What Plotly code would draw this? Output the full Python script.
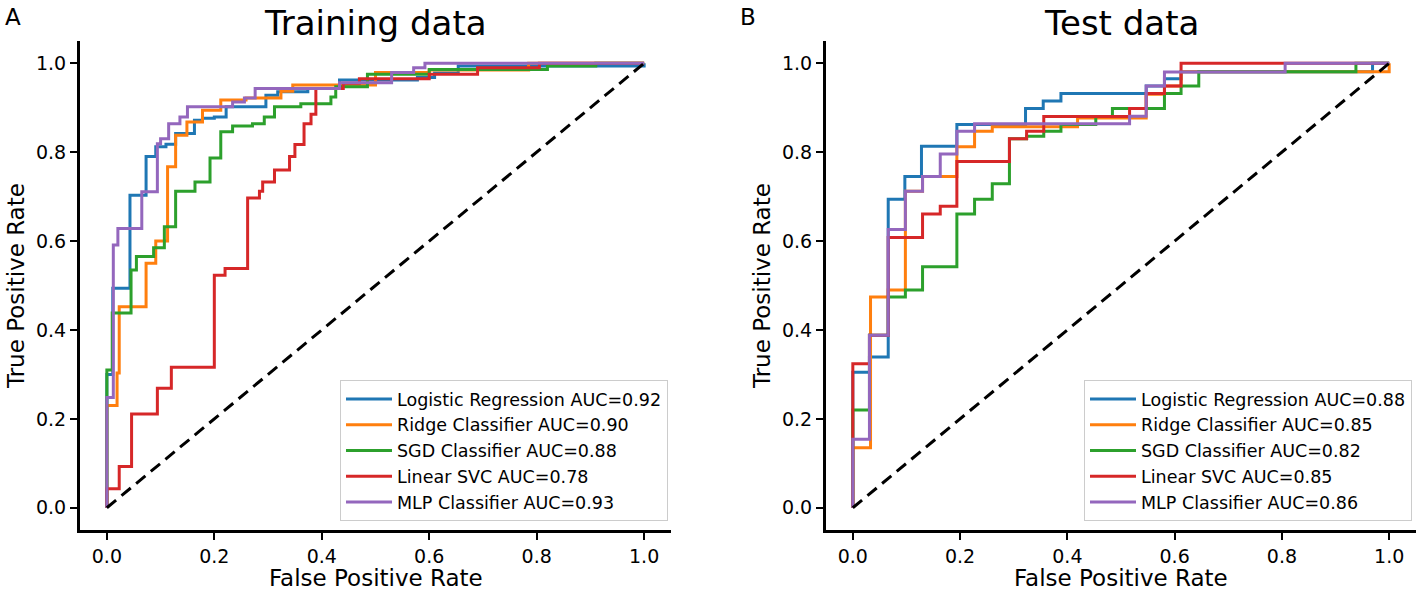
import plotly.graph_objects as go

# ROC curves (corner points of the step curves)
models = ["Logistic Regression", "Ridge Classifier", "SGD Classifier", "Linear SVC", "MLP Classifier"]
train_auc = [0.92, 0.90, 0.88, 0.78, 0.93]
test_auc = [0.88, 0.85, 0.82, 0.85, 0.86]
colors = ["#1f77b4", "#ff7f0e", "#2ca02c", "#d62728", "#9467bd"]

# --- training data ---
train_lr_fpr = [0, 0, 0.011, 0.043, 0.073, 0.091, 0.11, 0.128, 0.163, 0.178, 0.2, 0.222, 0.296, 0.318, 0.374, 0.433, 0.578, 0.61, 0.654, 1.0]
train_lr_tpr = [0, 0.30, 0.494, 0.703, 0.79, 0.812, 0.818, 0.842, 0.872, 0.876, 0.879, 0.902, 0.928, 0.936, 0.943, 0.962, 0.968, 0.978, 0.994, 1.0]

train_ridge_fpr = [0, 0, 0.019, 0.023, 0.073, 0.091, 0.113, 0.128, 0.149, 0.178, 0.212, 0.259, 0.324, 0.346, 0.5, 0.6, 0.785, 1.0]
train_ridge_tpr = [0, 0.23, 0.303, 0.452, 0.55, 0.6, 0.767, 0.838, 0.868, 0.894, 0.917, 0.922, 0.937, 0.951, 0.979, 0.985, 1.0, 1.0]

train_sgd_fpr = [0, 0, 0.01, 0.045, 0.055, 0.087, 0.107, 0.128, 0.164, 0.192, 0.212, 0.234, 0.271, 0.293, 0.312, 0.361, 0.417, 0.426, 0.485, 0.6, 0.82, 0.91, 1.0]
train_sgd_tpr = [0, 0.31, 0.438, 0.535, 0.565, 0.585, 0.632, 0.712, 0.733, 0.787, 0.846, 0.859, 0.864, 0.879, 0.902, 0.909, 0.924, 0.947, 0.975, 0.986, 0.994, 1.0, 1.0]

train_svc_fpr = [0, 0, 0.023, 0.046, 0.094, 0.12, 0.2, 0.22, 0.262, 0.284, 0.29, 0.312, 0.34, 0.35, 0.367, 0.38, 0.389, 0.44, 0.47, 0.6, 0.69, 0.805, 1.0]
train_svc_tpr = [0, 0.043, 0.093, 0.211, 0.269, 0.316, 0.523, 0.538, 0.697, 0.712, 0.733, 0.76, 0.79, 0.817, 0.864, 0.885, 0.943, 0.955, 0.965, 0.975, 0.99, 1.0, 1.0]

train_mlp_fpr = [0, 0, 0.012, 0.0205, 0.065, 0.094, 0.1, 0.115, 0.136, 0.15, 0.234, 0.256, 0.276, 0.433, 0.53, 0.571, 0.592, 1.0]
train_mlp_tpr = [0, 0.248, 0.591, 0.628, 0.711, 0.819, 0.83, 0.864, 0.879, 0.902, 0.913, 0.922, 0.943, 0.956, 0.979, 0.99, 1.0, 1.0]

# --- test data ---
test_lr_fpr = [0, 0, 0.031, 0.066, 0.097, 0.128, 0.194, 0.322, 0.355, 0.388, 0.547, 0.581, 0.612, 0.969, 1.0]
test_lr_tpr = [0, 0.305, 0.339, 0.694, 0.745, 0.813, 0.862, 0.898, 0.915, 0.932, 0.949, 0.965, 0.981, 1.0, 1.0]

test_ridge_fpr = [0, 0, 0.033, 0.066, 0.098, 0.13, 0.194, 0.227, 0.26, 0.419, 0.547, 0.581, 0.612, 1.0]
test_ridge_tpr = [0, 0.135, 0.474, 0.49, 0.712, 0.745, 0.812, 0.847, 0.857, 0.877, 0.93, 0.949, 0.981, 1.0]

test_sgd_fpr = [0, 0, 0.031, 0.066, 0.098, 0.13, 0.194, 0.227, 0.26, 0.292, 0.324, 0.356, 0.388, 0.453, 0.484, 0.581, 0.612, 0.645, 0.938, 1.0]
test_sgd_tpr = [0, 0.22, 0.388, 0.474, 0.49, 0.542, 0.661, 0.694, 0.729, 0.83, 0.836, 0.847, 0.862, 0.88, 0.898, 0.932, 0.949, 0.981, 1.0, 1.0]

test_svc_fpr = [0, 0, 0.031, 0.066, 0.13, 0.163, 0.194, 0.292, 0.324, 0.356, 0.516, 0.547, 0.581, 0.612, 1.0]
test_svc_tpr = [0, 0.324, 0.388, 0.608, 0.661, 0.678, 0.779, 0.83, 0.847, 0.88, 0.898, 0.932, 0.949, 1.0, 1.0]

test_mlp_fpr = [0, 0, 0.031, 0.066, 0.098, 0.13, 0.163, 0.194, 0.227, 0.516, 0.547, 0.581, 0.806, 1.0]
test_mlp_tpr = [0, 0.154, 0.388, 0.626, 0.712, 0.745, 0.796, 0.847, 0.864, 0.881, 0.949, 0.98, 1.0, 1.0]

chance_line = [0, 1]

train_curves = [(train_lr_fpr, train_lr_tpr), (train_ridge_fpr, train_ridge_tpr), (train_sgd_fpr, train_sgd_tpr),
                (train_svc_fpr, train_svc_tpr), (train_mlp_fpr, train_mlp_tpr)]
test_curves = [(test_lr_fpr, test_lr_tpr), (test_ridge_fpr, test_ridge_tpr), (test_sgd_fpr, test_sgd_tpr),
               (test_svc_fpr, test_svc_tpr), (test_mlp_fpr, test_mlp_tpr)]

W, H = 1418, 595
FONT = "DejaVu Sans"


def px(x):
    return x / W


def py(y):
    return 1 - y / H


fig = go.Figure()

panels = [
    (train_curves, train_auc, "x", "y", "legend"),
    (test_curves, test_auc, "x2", "y2", "legend2"),
]
for curves, aucs, xa, ya, leg in panels:
    for i, (fpr, tpr) in enumerate(curves):
        fig.add_trace(go.Scatter(
            x=fpr, y=tpr, mode="lines",
            line=dict(color=colors[i], width=3, shape="hv"),
            name=f"{models[i]} AUC={aucs[i]:.2f}",
            xaxis=xa, yaxis=ya, legend=leg, legendgroup=f"{leg}_{i}",
        ))
    # chance diagonal
    fig.add_trace(go.Scatter(
        x=chance_line, y=chance_line, mode="lines",
        line=dict(color="black", width=3, dash="12px,7px"),
        xaxis=xa, yaxis=ya, showlegend=False, hoverinfo="skip",
    ))

axis_style = dict(
    range=[-0.05, 1.05],
    tickvals=[0, 0.2, 0.4, 0.6, 0.8, 1.0],
    tickformat=".1f",
    showline=True, linecolor="black", linewidth=3,
    ticks="outside", ticklen=7, tickwidth=1.5, tickcolor="black",
    showgrid=False, zeroline=False,
    tickfont=dict(size=19, color="black", family=FONT),
)

y_dom = [py(530), py(41)]
fig.update_layout(
    xaxis=dict(domain=[px(80), px(671)], anchor="y", **axis_style),
    yaxis=dict(domain=y_dom, anchor="x", **axis_style),
    xaxis2=dict(domain=[px(826), px(1416)], anchor="y2", **axis_style),
    yaxis2=dict(domain=y_dom, anchor="x2", **axis_style),
)

legend_style = dict(
    yanchor="bottom", xanchor="right", y=py(521),
    bgcolor="rgba(255,255,255,0.8)", bordercolor="#cccccc", borderwidth=1,
    font=dict(size=17.5, color="black", family=FONT),
    tracegroupgap=0, itemwidth=46,
)
fig.update_layout(
    legend=dict(x=px(668), **legend_style),
    legend2=dict(x=px(1412), **legend_style),
)

annotations = [
    # panel titles
    dict(text="Training data", x=px(376), y=py(23), font=dict(size=34)),
    dict(text="Test data", x=px(1121), y=py(23), font=dict(size=34)),
    # panel letters
    dict(text="A", x=px(13), y=py(17), font=dict(size=23)),
    dict(text="B", x=px(748), y=py(17), font=dict(size=23)),
    # axis titles
    dict(text="False Positive Rate", x=px(376), y=py(578), font=dict(size=23)),
    dict(text="False Positive Rate", x=px(1121), y=py(578), font=dict(size=23)),
    dict(text="True Positive Rate", x=px(16), y=py(286), textangle=-90, font=dict(size=23)),
    dict(text="True Positive Rate", x=px(762), y=py(286), textangle=-90, font=dict(size=23)),
]
for a in annotations:
    a.update(xref="paper", yref="paper", showarrow=False, xanchor="center", yanchor="middle")
    a["font"].update(family=FONT, color="black")
fig.update_layout(annotations=annotations)

fig.update_layout(
    width=W, height=H,
    margin=dict(l=0, r=0, t=0, b=0),
    paper_bgcolor="white", plot_bgcolor="white",
    font=dict(family=FONT, color="black"),
)

# drop the default page margin so the figure fills the window exactly
fig.write_html(
    "out.html",
    config={"displayModeBar": False},
    post_script="document.body.style.margin = '0px';",
)
